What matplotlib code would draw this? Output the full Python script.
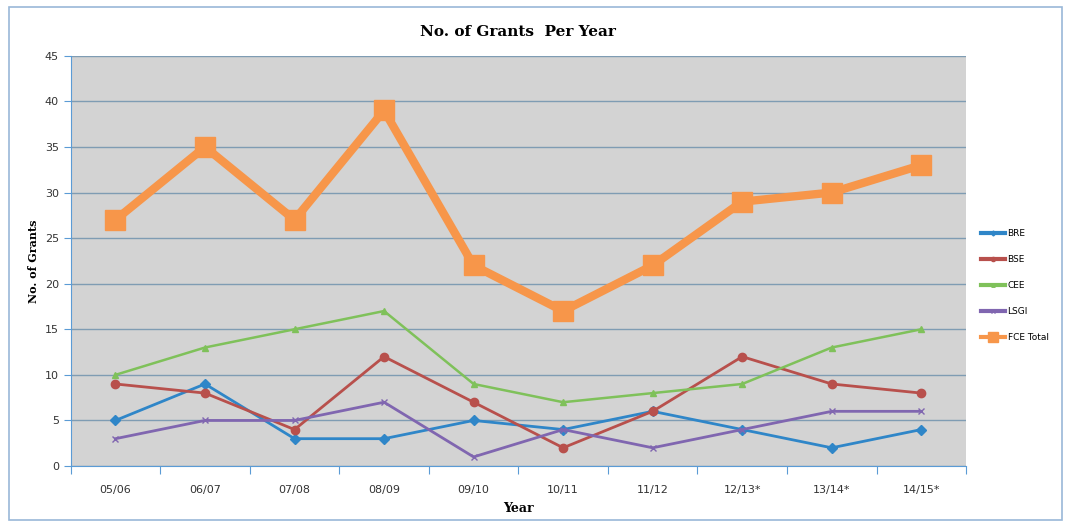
import numpy as np
import matplotlib
matplotlib.use("Agg")
import matplotlib.pyplot as plt
from matplotlib.patches import Rectangle

# Data
years = ["05/06", "06/07", "07/08", "08/09", "09/10", "10/11", "11/12", "12/13*", "13/14*", "14/15*"]
bre = [5, 9, 3, 3, 5, 4, 6, 4, 2, 4]
bse = [9, 8, 4, 12, 7, 2, 6, 12, 9, 8]
cee = [10, 13, 15, 17, 9, 7, 8, 9, 13, 15]
lsgi = [3, 5, 5, 7, 1, 4, 2, 4, 6, 6]
fce_total = [27, 35, 27, 39, 22, 17, 22, 29, 30, 33]

fig = plt.figure(figsize=(10.71, 5.26), dpi=100)
fig.patches.append(Rectangle((0.008, 0.012), 0.984, 0.975, transform=fig.transFigure,
                             fill=False, edgecolor="#9ab8d8", linewidth=1.2))
ax = fig.add_axes([0.066, 0.114, 0.836, 0.78])
ax.set_facecolor("#d3d3d3")

x = np.arange(len(years))
ax.plot(x, bre, color="#2f86c8", lw=2, marker="D", ms=5, label="BRE")
ax.plot(x, bse, color="#b8504c", lw=2, marker="o", ms=6, label="BSE")
ax.plot(x, cee, color="#7fc15a", lw=1.8, marker="^", ms=5, label="CEE")
ax.plot(x, lsgi, color="#8066b0", lw=2, marker="x", ms=5, label="LSGI")
ax.plot(x, fce_total, color="#f7964a", lw=6, marker="s", ms=15, label="FCE Total")

ax.set_xlim(-0.5, len(years) - 0.5)
ax.set_ylim(0, 45)
ax.set_yticks(range(0, 46, 5))
ax.yaxis.grid(True, color="#7f9cb3", lw=1)
ax.set_axisbelow(True)

ax.set_xticks(np.arange(-0.5, len(years), 1))
ax.set_xticklabels([])
ax.set_xticks(x, minor=True)
ax.set_xticklabels(years, minor=True)
ax.tick_params(axis="x", which="major", length=6, color="#5b9bd5", direction="out")
ax.tick_params(axis="x", which="minor", length=0, pad=14, labelsize=8, labelcolor="#333333")
ax.tick_params(axis="y", length=5, color="#5b9bd5", labelsize=8, labelcolor="#333333")

for side in ["top", "right"]:
    ax.spines[side].set_visible(False)
ax.spines["left"].set_color("#5b9bd5")
ax.spines["bottom"].set_color("#5b9bd5")

ax.set_title("No. of Grants  Per Year", fontsize=11, fontweight="bold", family="serif", pad=14)
ax.set_ylabel("No. of Grants", fontsize=8, fontweight="bold", family="serif", labelpad=4)
ax.set_xlabel("Year", fontsize=9, fontweight="bold", family="serif", labelpad=5)

leg = ax.legend(loc="center left", bbox_to_anchor=(1.008, 0.44), frameon=False,
                fontsize=6.5, handlelength=2.6, handletextpad=0.3, labelspacing=1.9,
                markerscale=0.5)
for h in leg.legend_handles:
    h.set_linewidth(3)

fig.savefig("out.png", dpi=100)
